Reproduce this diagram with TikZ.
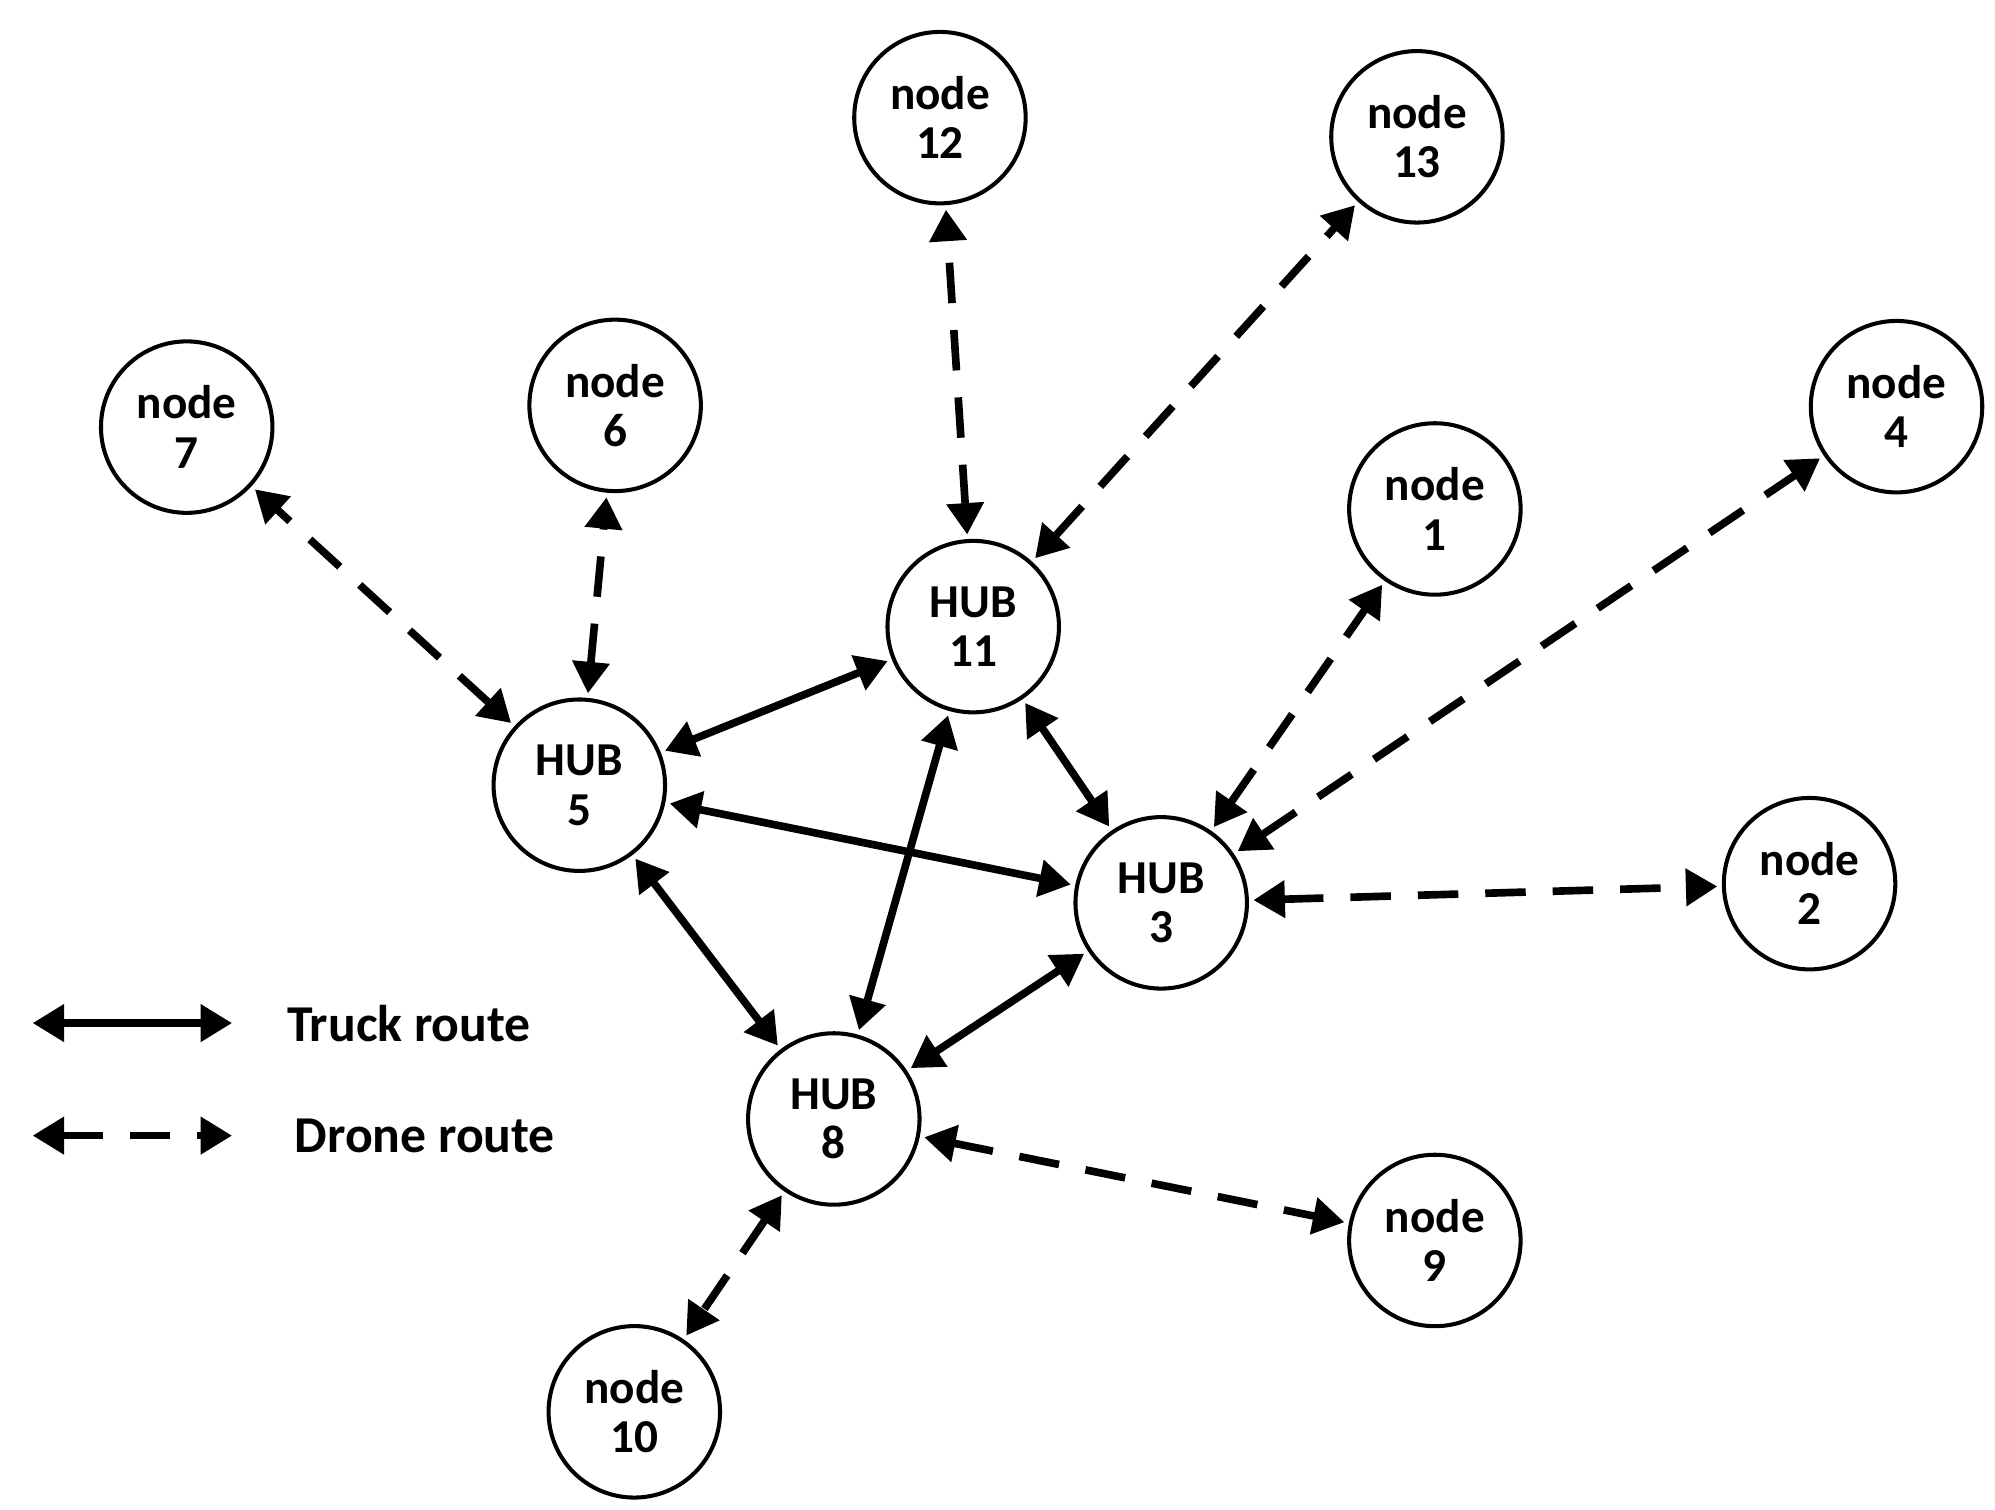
\documentclass[tikz,border=0pt]{standalone}
\usepackage{fontspec}
\setmainfont{Carlito}
\usetikzlibrary{arrows.meta}
\begin{document}
\begin{tikzpicture}[x=0.01cm,y=-0.01cm,
  nd/.style={circle,draw,line width=0.9pt,minimum size=1.34cm,inner sep=0pt,align=center,font=\bfseries\fontsize{10.5}{11}\selectfont},
  tr/.style={line width=1.7pt,{Triangle[length=7pt,width=8pt]}-{Triangle[length=7pt,width=8pt]},shorten <=1pt,shorten >=1pt},
  dr/.style={tr,dash pattern=on 9pt off 6pt}]
\useasboundingbox (0,0) rectangle (1560,1180);
\node[nd] (n12) at (735,92) {node\\12};
\node[nd] (n13) at (1108,107) {node\\13};
\node[nd] (n7) at (146,334) {node\\7};
\node[nd] (n6) at (481,317) {node\\6};
\node[nd] (n4) at (1483,318) {node\\4};
\node[nd] (n1) at (1122,398) {node\\1};
\node[nd] (h11) at (761,490) {HUB\\11};
\node[nd] (h5) at (453,614) {HUB\\5};
\node[nd] (h3) at (908,706) {HUB\\3};
\node[nd] (n2) at (1415,691) {node\\2};
\node[nd] (h8) at (652,875) {HUB\\8};
\node[nd] (n9) at (1122,970) {node\\9};
\node[nd] (n10) at (496,1104) {node\\10};
\draw[tr] (h5) -- (h11);
\draw[tr] (h5) -- (h3);
\draw[tr] (h5) -- (h8);
\draw[tr] (h11) -- (h8);
\draw[tr] (h11) -- (h3);
\draw[tr] (h3) -- (h8);
\draw[dr] (h11) -- (n12);
\draw[dr] (h11) -- (n13);
\draw[dr] (h5) -- (n7);
\draw[dr] (h5) -- (n6);
\draw[dr] (h3) -- (n1);
\draw[dr] (h3) -- (n4);
\draw[dr] (h3) -- (n2);
\draw[dr] (h8) -- (n9);
\draw[dr] (h8) -- (n10);
\coordinate (ta) at (22,800); \coordinate (tb) at (185,800);
\coordinate (da) at (22,888); \coordinate (db) at (185,888);
\draw[tr] (ta) -- (tb);
\draw[dr] (da) -- (db);
\node[anchor=west,font=\bfseries\fontsize{11.5}{12}\selectfont] (lt) at (212,800) {Truck route};
\node[anchor=west,font=\bfseries\fontsize{11.5}{12}\selectfont] (ld) at (218,888) {Drone route};
\end{tikzpicture}
\end{document}
